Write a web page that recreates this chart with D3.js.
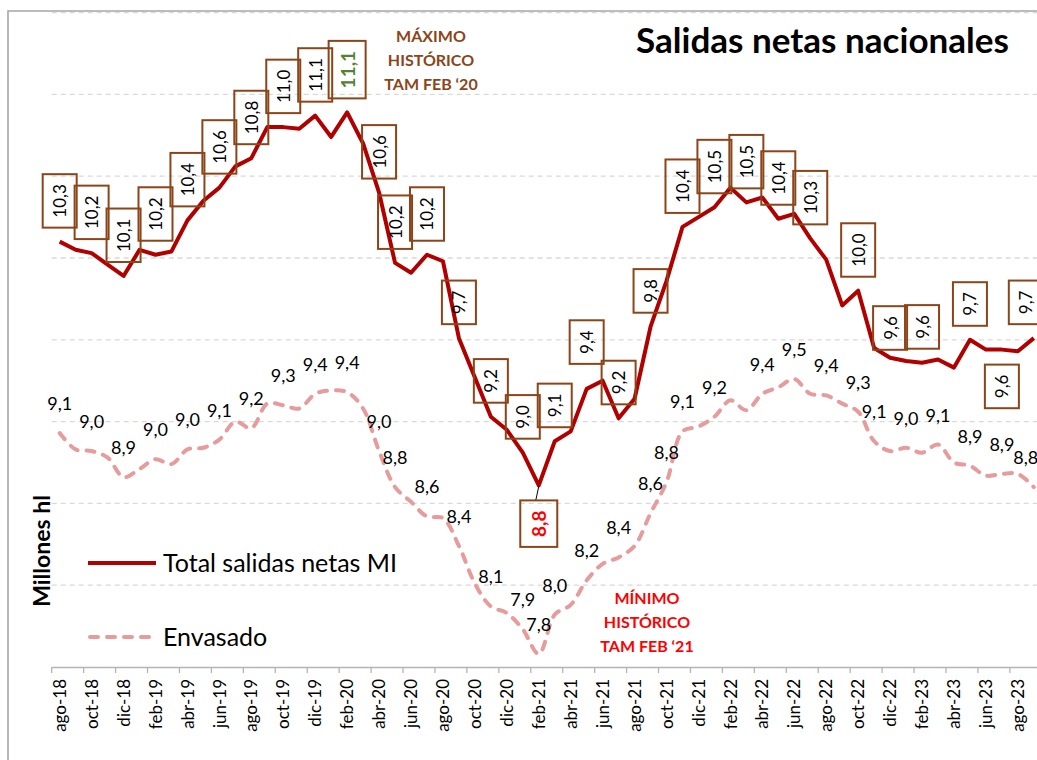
<!DOCTYPE html>
<html><head><meta charset="utf-8">
<script src="https://cdn.jsdelivr.net/npm/d3@7"></script>
<style>
body{margin:0;background:#fff;overflow:hidden}
svg{display:block}
text{font-family:Lato,"Open Sans","Liberation Sans",sans-serif}
</style>
</head><body>
<svg id="c" width="1037" height="760"></svg>
<script>
// ---------- DATA ----------
const categories = [
 "ago-18","sep-18","oct-18","nov-18","dic-18","ene-19","feb-19","mar-19","abr-19","may-19",
 "jun-19","jul-19","ago-19","sep-19","oct-19","nov-19","dic-19","ene-20","feb-20","mar-20",
 "abr-20","may-20","jun-20","jul-20","ago-20","sep-20","oct-20","nov-20","dic-20","ene-21",
 "feb-21","mar-21","abr-21","may-21","jun-21","jul-21","ago-21","sep-21","oct-21","nov-21",
 "dic-21","ene-22","feb-22","mar-22","abr-22","may-22","jun-22","jul-22","ago-22","sep-22",
 "oct-22","nov-22","dic-22","ene-23","feb-23","mar-23","abr-23","may-23","jun-23","jul-23",
 "ago-23","sep-23"];
const totalSalidas = [
 10.30,10.25,10.23,10.16,10.09,10.25,10.22,10.24,10.43,10.55,
 10.63,10.76,10.81,11.00,11.00,10.99,11.07,10.94,11.09,10.90,
 10.60,10.17,10.11,10.22,10.18,9.71,9.47,9.23,9.15,9.01,
 8.81,9.08,9.14,9.40,9.45,9.22,9.34,9.78,10.06,10.39,
 10.45,10.51,10.63,10.54,10.57,10.44,10.47,10.32,10.19,9.91,
 10.00,9.65,9.59,9.57,9.56,9.58,9.53,9.70,9.64,9.64,
 9.63,9.71];
const envasado = [
 9.13,9.03,9.02,8.98,8.86,8.91,8.97,8.94,9.03,9.04,
 9.09,9.20,9.16,9.31,9.30,9.28,9.37,9.39,9.38,9.28,
 9.02,8.80,8.71,8.62,8.61,8.44,8.21,8.07,8.03,7.93,
 7.78,8.02,8.08,8.23,8.33,8.37,8.44,8.64,8.83,9.14,
 9.17,9.23,9.33,9.27,9.37,9.41,9.46,9.37,9.36,9.31,
 9.26,9.08,9.02,9.04,9.01,9.06,8.95,8.93,8.87,8.88,
 8.88,8.80];
const totalLabelIdx = [0,2,4,6,8,10,12,14,16,18,20,21,23,25,27,29,30,31,33,35,37,39,41,43,45,47,50,52,54,57,59,61];
const envLabelIdx = [0,2,4,6,8,10,12,14,16,18,20,21,23,25,27,29,30,31,33,35,37,38,39,41,44,46,48,50,51,53,55,57,59,61];
const tickLabels = categories.filter((d,i)=>i%2===0);
const gridValues = [8.2,8.7,9.2,9.7,10.2,10.7,11.2,11.7];
const seriesNames = ["Total salidas netas MI","Envasado"];
const titleText = "Salidas netas nacionales";
const maxNote = ["MÁXIMO","HISTÓRICO","TAM FEB \u201820"];
const minNote = ["MÍNIMO","HISTÓRICO","TAM FEB \u201821"];
const maxIdx = 18, minIdx = 30;

// ---------- LAYOUT ----------
const svg = d3.select("#c");
const plotL = 51.7, plotR = 1041.8, plotB = 667, plotT = 12.6;
const x = d3.scaleBand().domain(categories).range([plotL, plotR]).padding(0);
const cx = i => x(categories[i]) + x.bandwidth()/2;
const y = d3.scaleLinear().domain([7.7, 11.7]).range([plotB, plotT]);
const fmt = v => v.toFixed(1).replace(".", ",");

const cRed = "#b00000", cPink = "#e69c9c", cBrown = "#8c4519", cGrid = "#d9d9d9";

// chart border
svg.append("path").attr("d","M8,760 L8,11 L1037,11")
  .attr("fill","none").attr("stroke","#a6a6a6").attr("stroke-width",1.6);

// gridlines
svg.append("g").selectAll("line").data(gridValues).join("line")
  .attr("x1",plotL).attr("x2",plotR).attr("y1",d=>y(d)).attr("y2",d=>y(d))
  .attr("stroke",cGrid).attr("stroke-width",1.3).attr("stroke-dasharray","5,4");

// x axis
const ax = svg.append("g").attr("transform",`translate(0,${plotB})`)
  .call(d3.axisBottom(x).tickValues(tickLabels).tickSize(0).tickSizeOuter(0));
ax.select(".domain").attr("stroke","#b4b4b4").attr("stroke-width",1.3);
ax.selectAll(".tick text")
  .attr("transform","rotate(-90)").attr("x",-12).attr("y",0).attr("dy","0.36em")
  .style("text-anchor","end").style("font-size","17px").style("font-family","Lato, sans-serif").attr("fill","#000");
ax.selectAll(".tick-mark").data(tickLabels).join("line").attr("class","tick-mark")
  .attr("x1",d=>x(d)).attr("x2",d=>x(d)).attr("y1",0).attr("y2",6)
  .attr("stroke","#b4b4b4").attr("stroke-width",1.3);

// y axis title
svg.append("text").attr("transform","translate(41,551) rotate(-90)")
  .attr("text-anchor","middle").attr("dominant-baseline","central")
  .style("font-size","23px").style("font-weight","700").attr("fill","#000").text("Millones hl");

// lines
const lineLin = d3.line().x((d,i)=>cx(i)).y(d=>y(d));
const lineSmooth = d3.line().x((d,i)=>cx(i)).y(d=>y(d)).curve(d3.curveCatmullRom.alpha(0.5));
svg.append("path").datum(envasado).attr("d",lineSmooth).attr("fill","none")
  .attr("stroke",cPink).attr("stroke-width",4).attr("stroke-dasharray","8,9").attr("stroke-linecap","round");
svg.append("path").datum(totalSalidas).attr("d",lineLin).attr("fill","none")
  .attr("stroke",cRed).attr("stroke-width",4).attr("stroke-linejoin","round");

// total labels (boxed)
const belowIdx = [30,59];
const gapOverride = {33:25, 52:8};
const boxDx = {61:-8};
const gT = svg.append("g");
totalLabelIdx.forEach(i=>{
  const v = totalSalidas[i], py = y(v);
  const px = cx(i) + (boxDx[i]||0);
  const special = i===maxIdx ? "#548235" : (i===minIdx ? "#ff0000" : null);
  const g = gT.append("g");
  const t = g.append("text").text(fmt(v))
    .attr("text-anchor","middle").attr("dominant-baseline","central")
    .style("font-size", special ? "19px" : "17px")
    .style("font-weight", special ? "700" : "400")
    .attr("fill", special || "#000");
  const len = t.node().getComputedTextLength();
  const bh = len + 20, bw = special ? 37 : 34;
  let cy;
  if (belowIdx.includes(i)) {
    const top = py + 15; cy = top + bh/2;
    if (i===minIdx) g.insert("line","text").attr("x1",px).attr("y1",py+1).attr("x2",px-3).attr("y2",top)
      .attr("stroke","#000").attr("stroke-width",1);
  } else {
    const gap = gapOverride[i] !== undefined ? gapOverride[i] : 14;
    cy = py - gap - bh/2;
  }
  g.insert("rect","text").attr("x",px-bw/2).attr("y",cy-bh/2).attr("width",bw).attr("height",bh)
    .attr("fill","none").attr("stroke",cBrown).attr("stroke-width",2);
  t.attr("transform",`translate(${px},${cy}) rotate(-90)`);
});

// envasado labels
const envDx = {61:-8};
svg.append("g").selectAll("text").data(envLabelIdx).join("text")
  .attr("x",i=>cx(i)+(envDx[i]||0)).attr("y",i=>y(envasado[i])-30)
  .attr("text-anchor","middle").attr("dominant-baseline","central")
  .style("font-size","18px").attr("fill","#000").text(i=>fmt(envasado[i]));

// legend
const lg = svg.append("g");
lg.append("line").attr("x1",88).attr("x2",156).attr("y1",563).attr("y2",563)
  .attr("stroke",cRed).attr("stroke-width",4);
lg.append("text").attr("x",163).attr("y",572).style("font-size","25px").attr("fill","#000").text(seriesNames[0]);
lg.append("line").attr("x1",90).attr("x2",156).attr("y1",637).attr("y2",637)
  .attr("stroke",cPink).attr("stroke-width",4).attr("stroke-dasharray","8,9").attr("stroke-linecap","round");
lg.append("text").attr("x",163).attr("y",646).style("font-size","25px").attr("fill","#000").text(seriesNames[1]);

// title
const tt = svg.append("text").attr("x",636).attr("y",53).style("font-size","34px").style("font-weight","700")
  .attr("fill","#000").text(titleText);
const tl = tt.node().getComputedTextLength();
tt.style("font-size", (34*373/tl).toFixed(2)+"px");

// annotations
svg.append("g").selectAll("text").data(maxNote).join("text")
  .attr("x",431).attr("y",(d,i)=>35+i*24).attr("text-anchor","middle").attr("dominant-baseline","central")
  .style("font-size","16px").style("font-weight","700").attr("fill",cBrown).text(d=>d);
svg.append("g").selectAll("text").data(minNote).join("text")
  .attr("x",647).attr("y",(d,i)=>597.5+i*24).attr("text-anchor","middle").attr("dominant-baseline","central")
  .style("font-size","16px").style("font-weight","700").attr("fill","#ff0000").text(d=>d);
</script>
</body></html>
